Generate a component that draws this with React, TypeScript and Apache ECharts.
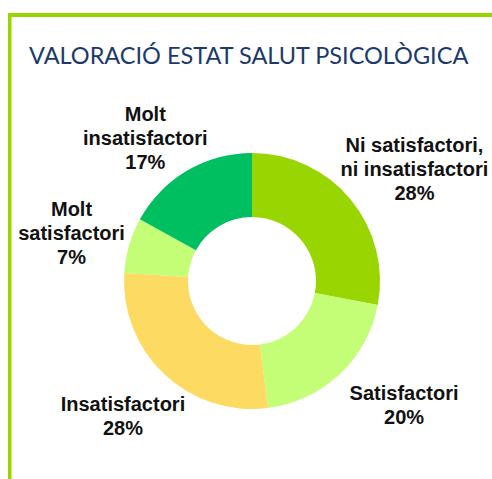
import React, { useEffect, useRef } from "react";
import * as echarts from "echarts";

const categories: string[] = [
  "Ni satisfactori,\nni insatisfactori",
  "Satisfactori",
  "Insatisfactori",
  "Molt\nsatisfactori",
  "Molt\ninsatisfactori",
];
const values: number[] = [28, 20, 28, 7, 17];
const colors: string[] = ["#99d500", "#c4fd76", "#fddb63", "#c4fd76", "#00bf60"];
// label offsets (px) from a radial anchor, style only
const labelOffsets: number[][] = [
  [16, 9],
  [22, -15],
  [1, -4],
  [2, 5],
  [-10, 21],
];

const CX = 252;
const CY = 281;
const LABEL_R = 190;

export default function App() {
  const ref = useRef<HTMLDivElement>(null);
  useEffect(() => {
    document.body.style.margin = "0";
    const chart = echarts.init(ref.current!, null, { renderer: "svg" });
    const total = values.reduce((a, b) => a + b, 0);
    const mids: number[] = [];
    let acc = 0;
    values.forEach((v) => {
      mids.push(((acc + v / 2) / total) * Math.PI * 2);
      acc += v;
    });
    chart.setOption({
      animation: false,
      backgroundColor: "#ffffff",
      title: {
        text: "VALORACIÓ ESTAT SALUT PSICOLÒGICA",
        left: 29,
        top: 42,
        padding: 0,
        textStyle: {
          fontFamily: "Lato",
          fontWeight: "normal",
          fontSize: 23.5,
          lineHeight: 26,
          color: "#1b3a6b",
        },
      },
      graphic: [
        { type: "rect", shape: { x: 8, y: 13, width: 484, height: 4 }, style: { fill: "#99d400" } },
        { type: "rect", shape: { x: 8, y: 13, width: 3.5, height: 466 }, style: { fill: "#99d400" } },
      ],
      series: [
        {
          type: "pie",
          center: [CX, CY],
          radius: [64, 128],
          startAngle: 90,
          clockwise: true,
          label: {
            show: true,
            position: "outside",
            formatter: (p: any) => `${p.name}\n${p.value}%`,
            fontFamily: "Liberation Sans",
            fontWeight: "bold",
            fontSize: 20,
            lineHeight: 24,
            color: "#111111",
            align: "center",
            overflow: "none",
            width: 300,
          },
          labelLine: { show: false },
          labelLayout: (params: any) => {
            const i = params.dataIndex;
            const a = mids[i];
            return {
              x: CX + LABEL_R * Math.sin(a) + labelOffsets[i][0],
              y: CY - LABEL_R * Math.cos(a) + labelOffsets[i][1],
              align: "center",
              verticalAlign: "middle",
            };
          },
          emphasis: { disabled: true },
          data: categories.map((c, i) => ({
            name: c,
            value: values[i],
            itemStyle: { color: colors[i] },
          })),
        },
      ],
    });
    return () => chart.dispose();
  }, []);
  return <div ref={ref} style={{ width: 492, height: 479 }} />;
}
